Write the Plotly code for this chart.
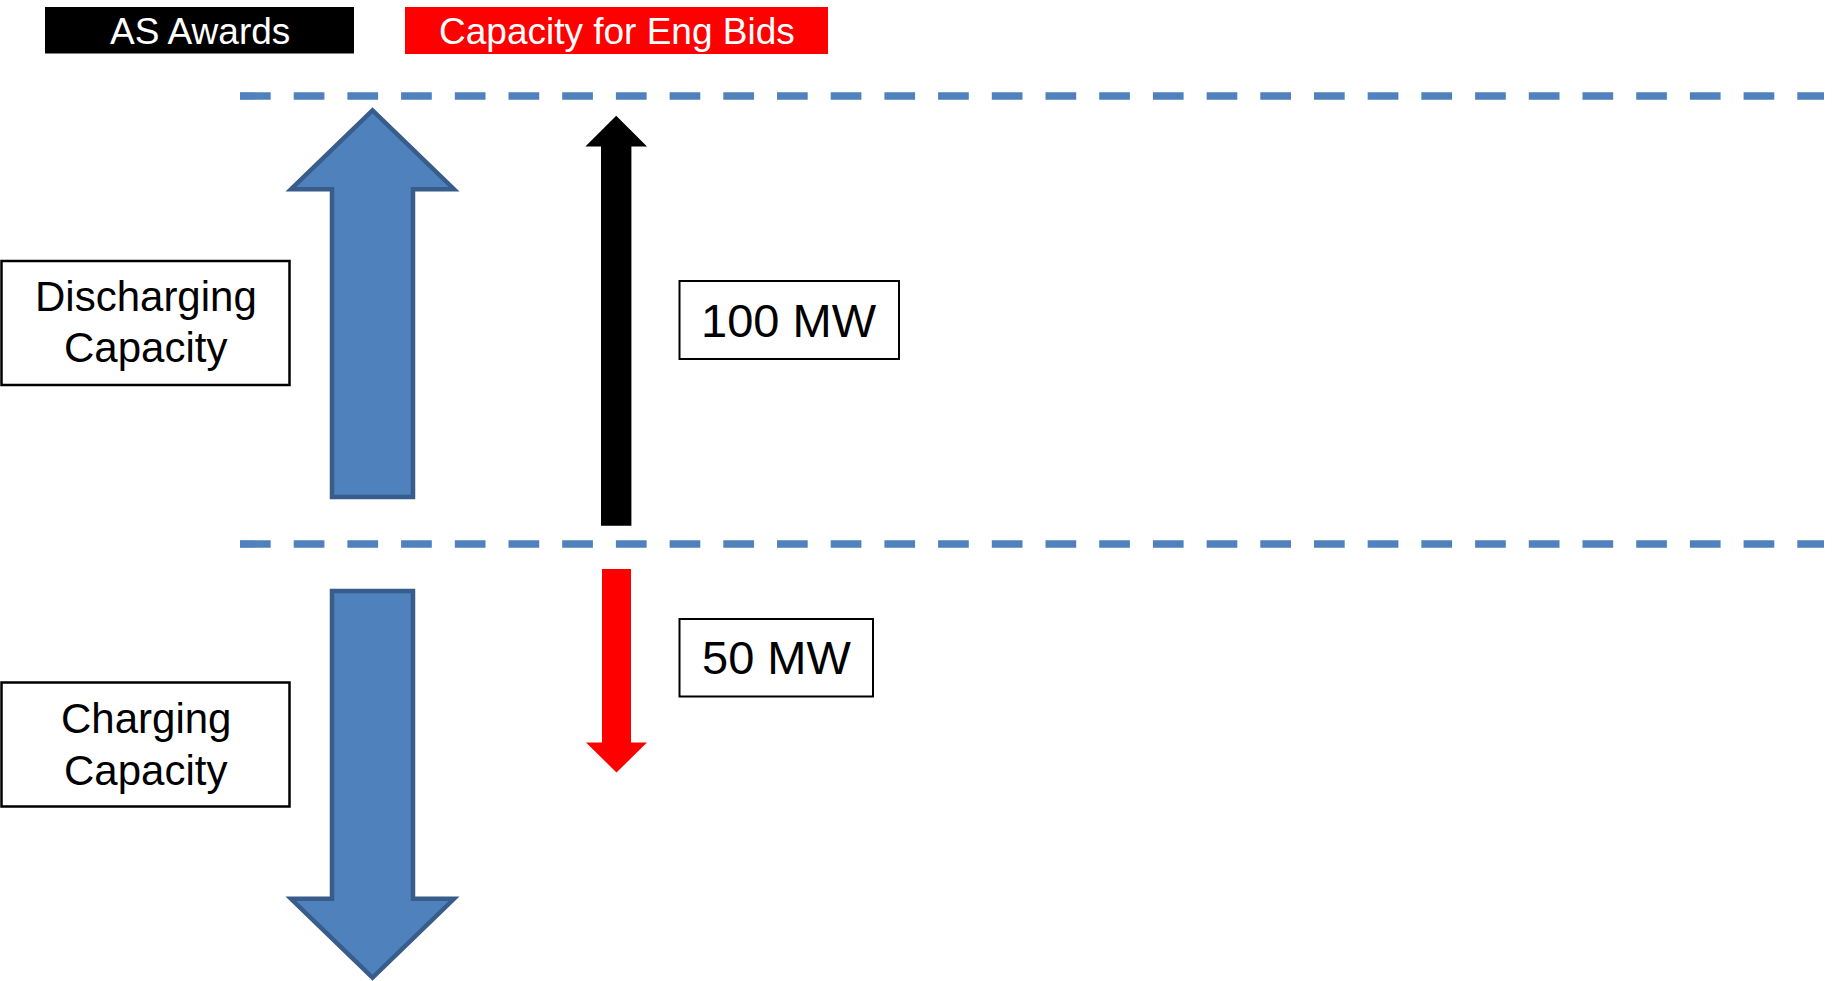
import plotly.graph_objects as go

# ---------------- data ----------------
ribbon_labels = ["AS Awards", "Capacity for Eng Bids"]
ribbon_colors = ["#000000", "#FF0000"]
box_labels = [["Discharging", "Capacity"], ["Charging", "Capacity"]]
capacity_mw = [100, -100]          # discharging (up), charging (down)
as_award_mw = 100                  # black arrow
eng_bid_mw = -50                   # red arrow
value_labels = ["100 MW", "50 MW"]
reference_levels_mw = [100, 0]     # dashed lines

# ---------------- styling ----------------
W, H = 1837, 981
FONT = "Liberation Sans, Arial, sans-serif"
BLUE = "#4F81BD"
BLUE_EDGE = "#385D8A"
PX_PER_MW = 4.48
ZERO_PX = 544
y_top = ZERO_PX / PX_PER_MW
y_bot = -(H - ZERO_PX) / PX_PER_MW

fig = go.Figure()

# dashed reference lines (MW axis)
for lvl in reference_levels_mw:
    fig.add_trace(go.Scatter(
        x=[240, 1824], y=[lvl, lvl], mode="lines",
        line=dict(color=BLUE, width=7.7, dash="30.7px,23px"),
        hoverinfo="skip", showlegend=False, yaxis="y"))

# invisible trace on pixel axis so it is laid out
fig.add_trace(go.Scatter(x=[0], y=[0], mode="markers", marker=dict(opacity=0),
                         hoverinfo="skip", showlegend=False, yaxis="y2"))


def arrow_path(xc, y0, ytip, shaft_hw, head_hw, head_len):
    """Arrow from y0 to ytip (MW units) at pixel x-centre xc."""
    s = 1 if ytip > y0 else -1
    yb = ytip - s * head_len
    pts = [(xc - shaft_hw, y0), (xc - shaft_hw, yb), (xc - head_hw, yb),
           (xc, ytip), (xc + head_hw, yb), (xc + shaft_hw, yb),
           (xc + shaft_hw, y0)]
    return "M " + " L ".join(f"{x},{y}" for x, y in pts) + " Z"


# blue capacity arrows
for cap in capacity_mw:
    s = 1 if cap > 0 else -1
    fig.add_shape(type="path", xref="x", yref="y",
                  path=arrow_path(372.5, s * 10.5, cap - s * 3.2, 40.5, 81.5, 17.6),
                  fillcolor=BLUE, line=dict(color=BLUE_EDGE, width=4.5))

# black AS award arrow
fig.add_shape(type="path", xref="x", yref="y",
              path=arrow_path(616.2, 4.1, as_award_mw - 4.4, 15.2, 30.8, 6.9),
              fillcolor="#000000", line=dict(width=0))
# red energy-bid arrow
fig.add_shape(type="path", xref="x", yref="y",
              path=arrow_path(616.5, -5.6, eng_bid_mw - 1.0, 14.5, 30.5, 6.7),
              fillcolor="#FF0000", line=dict(width=0))

# top ribbons
ribbon_boxes = [(45, 354, 7, 53.5), (405, 828, 7, 54)]
for lab, col, (x0, x1, y0, y1) in zip(ribbon_labels, ribbon_colors, ribbon_boxes):
    fig.add_shape(type="rect", xref="x", yref="y2", x0=x0, x1=x1, y0=y0, y1=y1,
                  fillcolor=col, line=dict(width=0))
    fig.add_annotation(x=(x0 + x1) / 2, y=(y0 + y1) / 2 + 1, xref="x", yref="y2",
                       text=lab, showarrow=False,
                       font=dict(family=FONT, size=37, color="white"),
                       xanchor="center", yanchor="middle")

# left label boxes
label_boxes = [(1.5, 289.5, 261, 385, (296.5, 347)), (1.5, 289.5, 682.5, 806.5, (718.5, 770))]
for lines, (x0, x1, y0, y1, ys) in zip(box_labels, label_boxes):
    fig.add_shape(type="rect", xref="x", yref="y2", x0=x0, x1=x1, y0=y0, y1=y1,
                  fillcolor="white", line=dict(color="black", width=2.5))
    for t, yy in zip(lines, ys):
        fig.add_annotation(x=(x0 + x1) / 2, y=yy, xref="x", yref="y2", text=t,
                           showarrow=False, font=dict(family=FONT, size=42, color="black"),
                           xanchor="center", yanchor="middle")

# value boxes
value_boxes = [(679.5, 899, 281, 359), (679.5, 873, 619, 696.5)]
for t, (x0, x1, y0, y1) in zip(value_labels, value_boxes):
    fig.add_shape(type="rect", xref="x", yref="y2", x0=x0, x1=x1, y0=y0, y1=y1,
                  fillcolor="white", line=dict(color="black", width=2))
    fig.add_annotation(x=(x0 + x1) / 2, y=(y0 + y1) / 2, xref="x", yref="y2", text=t,
                       showarrow=False, font=dict(family=FONT, size=47, color="black"),
                       xanchor="center", yanchor="middle")

axis_off = dict(visible=False, showgrid=False, zeroline=False, fixedrange=True)
fig.update_layout(
    width=W, height=H,
    margin=dict(l=0, r=0, t=0, b=0, pad=0),
    paper_bgcolor="white", plot_bgcolor="white",
    showlegend=False,
    xaxis=dict(range=[0, W], **axis_off),
    yaxis=dict(range=[y_bot, y_top], **axis_off),
    yaxis2=dict(range=[H, 0], overlaying="y", **axis_off),
)

fig.write_html("out.html", config={"displayModeBar": False},
               post_script="document.body.style.margin='0';")
